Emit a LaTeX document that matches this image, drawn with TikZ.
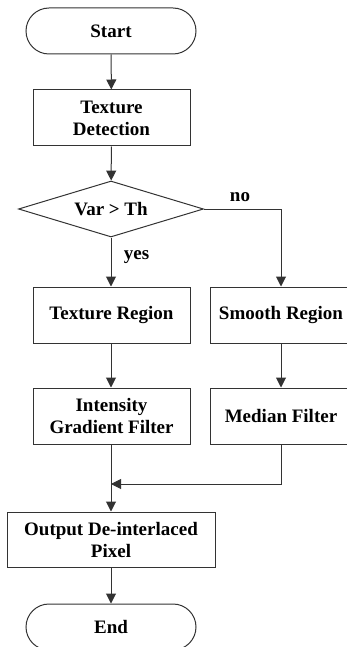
\documentclass[tikz,border=0pt]{standalone}
\usepackage{fontspec}
\setmainfont{Liberation Serif}
\usetikzlibrary{arrows.meta,shapes.geometric}
\begin{document}
\begin{tikzpicture}[x=1pt,y=1pt,
  every node/.style={font=\fontsize{19}{22}\selectfont\bfseries, text=black},
  line/.style={draw=black!80, line width=1pt},
  arr/.style={line, -{Triangle[length=10pt,width=10pt]}},
  proc/.style={line, rectangle, align=center, inner sep=0pt, minimum height=56pt},
  term/.style={line, rectangle, rounded corners=23pt, inner sep=0pt,
               minimum width=170pt, minimum height=46pt},
  decide/.style={line, diamond, aspect=3.3, inner sep=0pt,
                 minimum width=185pt, minimum height=56pt},
  lbl/.style={inner sep=0pt}]
\useasboundingbox (0,0) rectangle (347,-647);
% nodes of the flow
\node[term] (start) at (111,-31) {Start};
\node[proc, minimum width=157pt] (detect) at (111.5,-118) {Texture\\Detection};
\node[decide] (test) at (111,-209) {Var > Th};
\node[proc, minimum width=157pt] (texreg) at (111.5,-315) {Texture Region};
\node[proc, minimum width=142pt] (smooth) at (281,-315) {Smooth Region};
\node[proc, minimum width=157pt] (grad) at (111.5,-416) {Intensity\\Gradient Filter};
\node[proc, minimum width=142pt] (median) at (281,-416) {Median Filter};
\node[proc, minimum width=208pt, minimum height=55pt] (out) at (111,-539.5) {Output De-interlaced\\Pixel};
\node[term] (end) at (111,-627) {End};
\coordinate (join) at (111,-484);
% connectors
\draw[arr] (start) -- (detect);
\draw[arr] (detect) -- (test);
\draw[arr] (test.south) -- (test.south |- texreg.north);
\draw[arr] (test.east) -| (smooth.north);
\draw[arr] (texreg.south -| test.south) -- (grad.north -| test.south);
\draw[arr] (smooth) -- (median);
\draw[line] (grad.south -| test.south) -- (join);
\draw[arr] (join) -- (out.north);
\draw[arr] (median.south) |- (join);
\draw[arr] (out) -- (end);
% branch labels
\node[lbl] (yes) at (136.5,-257) {yes};
\node[lbl] (no) at (240,-197) {no};
\end{tikzpicture}
\end{document}
